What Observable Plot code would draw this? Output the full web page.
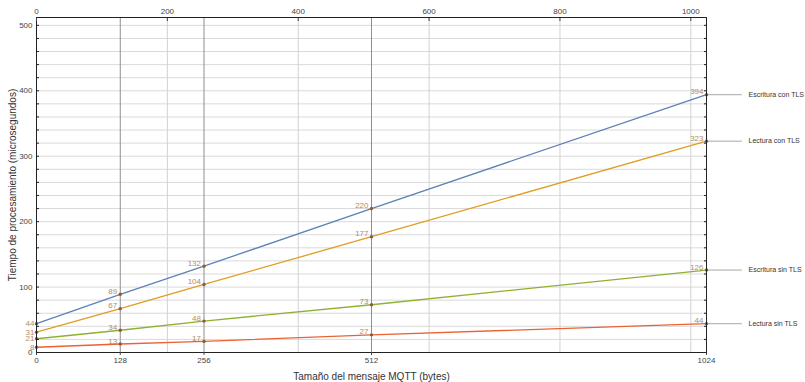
<!DOCTYPE html>
<html><head><meta charset="utf-8">
<script src="https://cdn.jsdelivr.net/npm/d3@7"></script>
<script src="https://cdn.jsdelivr.net/npm/@observablehq/plot@0.6"></script>
<style>body{margin:0;background:#fff} svg{font-family:"Liberation Sans",Arial,sans-serif}</style>
</head><body><div id="chart"></div>
<script>
const sizes = [0, 128, 256, 512, 1024];
const seriesNames = ["Escritura con TLS", "Lectura con TLS", "Escritura sin TLS", "Lectura sin TLS"];
const escrituraConTLS = [44, 89, 132, 220, 394];
const lecturaConTLS = [31, 67, 104, 177, 323];
const escrituraSinTLS = [21, 34, 48, 73, 126];
const lecturaSinTLS = [8, 13, 17, 27, 44];
const seriesColors = ["#5e81b5", "#e19c24", "#8fb032", "#eb6235"];
const topTicks = [0, 200, 400, 600, 800, 1000];
const bottomTicks = [0, 128, 256, 512, 1024];
const yLabelTicks = [0, 100, 200, 300, 400, 500];
const yMinorTicks = [0, 20, 40, 60, 80, 100, 120, 140, 160, 180, 200, 220, 240, 260, 280, 300, 320, 340, 360, 380, 400, 420, 440, 460, 480, 500];
const lightGridX = [200, 400, 600, 800, 1000];
const darkGridX = [128, 256, 512];
const xTitle = "Tamaño del mensaje MQTT (bytes)";
const yTitle = "Tiempo de procesamiento (microsegundos)";

const allValues = [escrituraConTLS, lecturaConTLS, escrituraSinTLS, lecturaSinTLS];
const rows = allValues.flatMap((vals, i) => vals.map((v, j) => ({series: seriesNames[i], size: sizes[j], value: v})));
const endRows = rows.filter(d => d.size === 1024);
const startRows = rows.filter(d => d.size === 0);
const innerRows = rows.filter(d => d.size !== 0);

const lineShape = {draw(ctx, l) { ctx.moveTo(0, 0); ctx.lineTo(0, -l); }};
const plain = d => String(d);

const chart = Plot.plot({
  width: 805, height: 382,
  marginLeft: 36, marginRight: 99, marginTop: 17, marginBottom: 30,
  style: {fontFamily: "'Liberation Sans', Arial, sans-serif", background: "#fff"},
  x: {domain: [0, 1024], axis: null},
  y: {domain: [0, 512], axis: null},
  color: {domain: seriesNames, range: seriesColors},
  marks: [
    Plot.ruleY(yMinorTicks, {stroke: "#dadada", strokeWidth: 1}),
    Plot.ruleX(lightGridX, {stroke: "#d2d2d2", strokeWidth: 1}),
    Plot.ruleX(darkGridX, {stroke: "#8e8e8e", strokeWidth: 1}),
    Plot.line(rows, {x: "size", y: "value", z: "series", stroke: "series", strokeWidth: 1.3}),
    Plot.vector(endRows, {x: "size", y: "value", length: 35, rotate: 90, anchor: "start", shape: lineShape, stroke: "#a8a8a8", strokeWidth: 1, clip: false}),
    Plot.dot(rows, {x: "size", y: "value", r: 1.7, fill: "#8d5d2e"}),
    Plot.text(innerRows, {x: "size", y: "value", text: d => String(d.value), textAnchor: "end", dx: -3, dy: -3, fill: "#b48c62", fontSize: 8}),
    Plot.text(startRows, {x: "size", y: "value", text: d => String(d.value), textAnchor: "end", dx: -2, dy: 0, fill: "#b48c62", fontSize: 8}),
    Plot.text(endRows, {x: "size", y: "value", text: "series", textAnchor: "start", dx: 42, fill: "#333", fontSize: 7}),
    Plot.frame({stroke: "#222", strokeWidth: 1}),
    Plot.axisX(bottomTicks, {anchor: "bottom", tickSize: 3, tickPadding: 2, fontSize: 8, color: "#444", label: null, tickFormat: plain}),
    Plot.axisX(topTicks, {anchor: "top", tickSize: -3, tickPadding: 7, fontSize: 8, color: "#444", label: null, tickFormat: plain}),
    Plot.axisY(yLabelTicks, {anchor: "left", tickSize: 0, tickPadding: 4, fontSize: 8, color: "#444", label: null, tickFormat: plain}),
    Plot.axisY(yMinorTicks, {anchor: "left", tickSize: -3, tickFormat: () => "", label: null, stroke: "#222"}),
    Plot.axisY(yMinorTicks, {anchor: "right", tickSize: -3, tickFormat: () => "", label: null, stroke: "#222"}),
    Plot.text([xTitle], {frameAnchor: "bottom", textAnchor: "middle", dy: 27, fontSize: 10, fill: "#333"}),
    Plot.text([yTitle], {frameAnchor: "left", textAnchor: "middle", rotate: -90, dx: -24, fontSize: 10, fill: "#333"})
  ]
});
document.getElementById("chart").appendChild(chart);
</script>
</body></html>
